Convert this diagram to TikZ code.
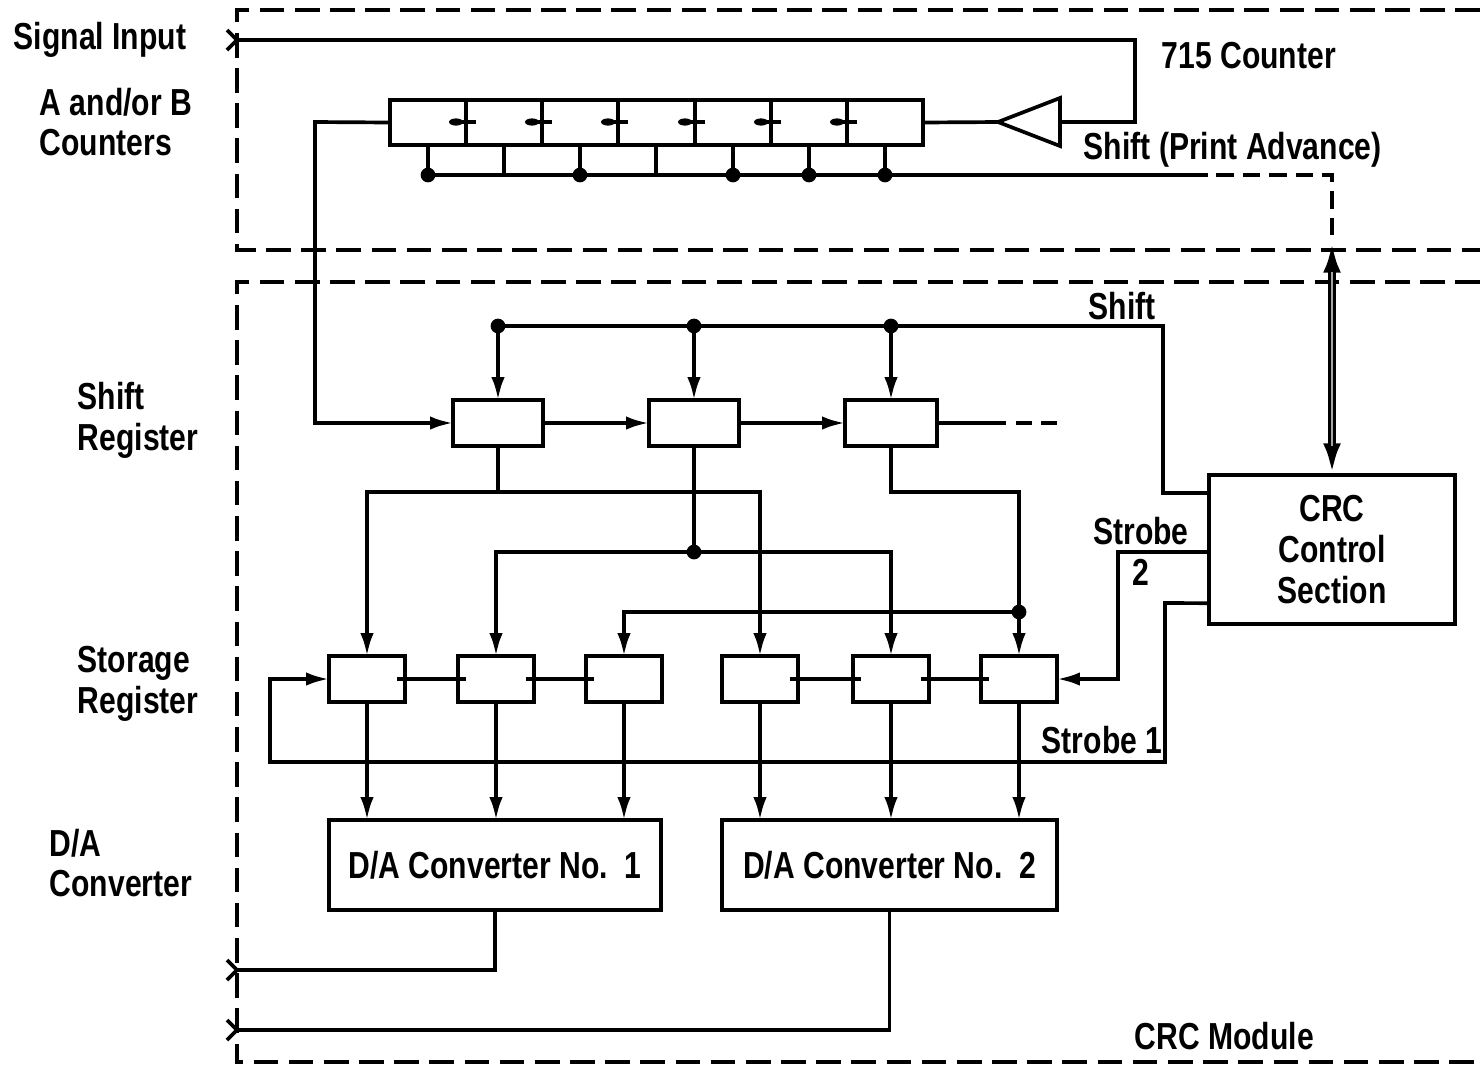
\documentclass[tikz,border=0pt]{standalone}
\usepackage{fontspec}
\setmainfont{Liberation Sans}[FakeStretch=0.8]
\usetikzlibrary{arrows.meta,calc}
\begin{document}
\begin{tikzpicture}[x=0.01cm,y=-0.01cm,line width=1.05pt,
  box/.style={draw,line width=1.05pt,inner sep=0pt,outer sep=0pt},
  arr/.style={-{Latex[length=6.5pt,width=3.8pt]}},
  jdot/.style={circle,fill,inner sep=0pt,minimum size=4.2pt},
  lbl/.style={font=\bfseries\fontsize{10.7}{11.6}\selectfont,inner sep=0pt,align=left},
  clbl/.style={font=\bfseries\fontsize{10.7}{11.6}\selectfont,inner sep=0pt,align=center},
  modbox/.style={dash pattern=on 7pt off 3pt},
  smalldash/.style={dash pattern=on 5pt off 2.5pt},
]
\useasboundingbox (0,0) rectangle (1480,1066);
% module boundaries
\draw[modbox] (1480,10) -- (237,10) -- (237,250) -- (1480,250);
\draw[modbox] (1480,282) -- (237,282) -- (237,1062) -- (1480,1062);
% boundary connectors
\coordinate (sigin) at (237,40);
\coordinate (out1) at (237,970);
\coordinate (out2) at (237,1030);
\foreach \c in {sigin,out1,out2}
  \draw ($(\c)+(-10,-10)$) -- (\c) -- ($(\c)+(-10,10)$);
% 715 counter
\node[box,minimum width=5.33cm,minimum height=0.45cm] (ctr) at (656.5,122.5) {};
\foreach \x in {466,542,618,695,771,847}{
  \draw (\x,100) -- (\x,145);
  \draw (\x-16,122) -- (\x+10,122);
  \fill (\x-10,122) ellipse [x radius=7,y radius=3.6];
}
\foreach \x in {428,504,580,656,733,809,885}
  \draw (\x,145) -- (\x,175);
\foreach \x/\n in {428/c1,580/c3,733/c5,809/c6,885/c7}
  \node[jdot] (\n) at (\x,175) {};
\coordinate (pa) at (1190,175);
\coordinate (tapT) at (1332,241);
\draw (c1.center) -- (pa);
\draw[smalldash] (pa) -| (tapT);
% amplifier
\coordinate (ampin) at (1060,122);
\coordinate (ampout) at (998,122);
\draw (1060,98) -- (ampout) -- (1060,146) -- cycle;
\draw (sigin) -- (1135,40) |- (ampin);
\draw (ampout) -- (ctr.east);
% shift register
\node[box,minimum width=0.9cm,minimum height=0.46cm] (sr1) at (498,423) {};
\node[box,minimum width=0.9cm,minimum height=0.46cm] (sr2) at (694,423) {};
\node[box,minimum width=0.92cm,minimum height=0.46cm] (sr3) at (891,423) {};
\draw[arr] (ctr.west) -- (315,122) |- (sr1.west);
\draw[arr] (sr1.east) -- (sr2.west);
\draw[arr] (sr2.east) -- (sr3.west);
\coordinate (srend) at (990,423);
\coordinate (srdash) at (1065,423);
\draw (sr3.east) -- (srend);
\draw[dash pattern=on 4.5pt off 2.8pt] (srend) -- (srdash);
% CRC control section
\node[box,minimum width=2.46cm,minimum height=1.49cm,clbl] (crc) at (1332,549.5) {CRC\\Control\\Section};
\coordinate (crcS) at ($(crc.north west)!0.12!(crc.south west)$);
\coordinate (crcS2) at ($(crc.north west)!0.517!(crc.south west)$);
\coordinate (crcS1) at ($(crc.north west)!0.86!(crc.south west)$);
% shift line
\node[jdot] (s1) at (498,326) {};
\node[jdot] (s2) at (694,326) {};
\node[jdot] (s3) at (891,326) {};
\draw (s1.center) -- (1163,326) |- (crcS);
\draw[arr] (s1.center) -- (sr1.north);
\draw[arr] (s2.center) -- (sr2.north);
\draw[arr] (s3.center) -- (sr3.north);
% double link to counter
\draw[line width=2.4pt,{Latex[length=9pt,width=5pt]}-{Latex[length=9pt,width=5pt]}] (tapT) -- (crc.north);
\draw[line width=0.8pt,gray!70] (1332,272) -- (1332,446);
% storage register
\foreach \x/\n in {367/sb1,496/sb2,624/sb3,760/sb4,891/sb5,1019/sb6}
  \node[box,minimum width=0.76cm,minimum height=0.46cm] (\n) at (\x,679) {};
\foreach \a/\b in {sb1/sb2,sb2/sb3,sb4/sb5,sb5/sb6}
  \draw ($(\a.east)+(-8,0)$) -- ($(\b.west)+(8,0)$);
% shift -> storage
\coordinate (j1) at (498,492);
\draw (sr1.south) -- (j1);
\draw[arr] (j1) -| (sb1.north);
\draw[arr] (j1) -| (sb4.north);
\node[jdot] (j2) at (694,552) {};
\draw (sr2.south) -- (j2.center);
\draw[arr] (j2.center) -| (sb2.north);
\draw[arr] (j2.center) -| (sb5.north);
\node[jdot] (j3) at (1019,612) {};
\draw (sr3.south) |- (1019,492) -- (j3.center);
\draw[arr] (j3.center) -- (sb6.north);
\draw[arr] (j3.center) -| (sb3.north);
% strobes
\draw[arr] (crcS2) -- (1118,552) |- (sb6.east);
\draw[arr] (crcS1) -- (1165,603) |- (270,762) |- (sb1.west);
% D/A converters
\node[box,minimum width=3.32cm,minimum height=0.9cm,clbl] (da1) at (495,865) {D/A Converter No.\ \ 1};
\node[box,minimum width=3.35cm,minimum height=0.9cm,clbl] (da2) at (889.5,865) {D/A Converter No.\ \ 2};
\foreach \n/\d in {sb1/da1,sb2/da1,sb3/da1,sb4/da2,sb5/da2,sb6/da2}
  \draw[arr] (\n.south) -- (\n.south |- \d.north);
\draw (da1.south) |- (out1);
\draw (da2.south) |- (out2);
% labels
\node[lbl,anchor=west] at (12,40) {Signal Input};
\node[lbl,anchor=west] at (38,122) {A and/or B\\Counters};
\node[lbl,anchor=west] at (1160,56) {715 Counter};
\node[lbl,anchor=west] at (1082,150) {Shift (Print Advance)};
\node[lbl,anchor=west] at (1087,306) {Shift};
\node[lbl,anchor=west] at (76,420) {Shift\\Register};
\node[lbl,anchor=west] at (76,684) {Storage\\Register};
\node[lbl,anchor=west] at (48,863) {D/A\\Converter};
\node[clbl] at (1141,551) {Strobe\\2};
\node[lbl,anchor=west] at (1040,740) {Strobe 1};
\node[lbl,anchor=west] at (1133,1036) {CRC Module};
\end{tikzpicture}
\end{document}
